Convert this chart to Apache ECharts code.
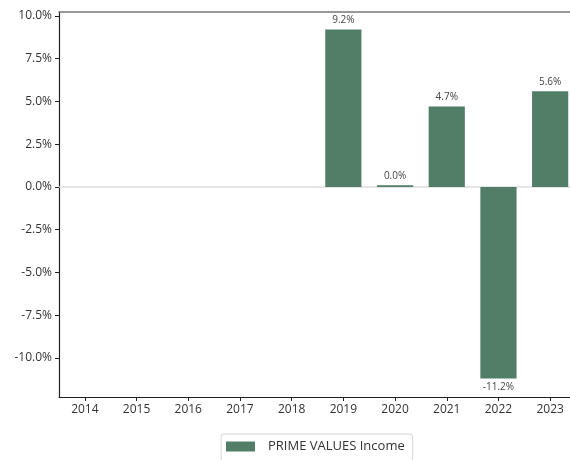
<!DOCTYPE html>
<html><head><meta charset="utf-8">
<script src="https://cdn.jsdelivr.net/npm/echarts@6/dist/echarts.min.js"></script>
<style>html,body{margin:0;padding:0;background:#fff}#c{width:570px;height:460px}</style>
</head><body><div id="c"></div>
<script>
const categories = ['2014','2015','2016','2017','2018','2019','2020','2021','2022','2023'];
const incomeValues = [null,null,null,null,null,9.2,0.1,4.7,-11.2,5.6];
const incomeLabels = ['','','','','','9.2%','0.0%','4.7%','-11.2%','5.6%'];
const yTicks = [-10,-7.5,-5,-2.5,0,2.5,5,7.5,10];
const seriesName = 'PRIME VALUES Income';

const chart = echarts.init(document.getElementById('c'), null, {renderer:'canvas'});
const font = '"Open Sans", "Noto Sans", sans-serif';
chart.setOption({
  animation:false,
  textStyle:{fontFamily:font},
  grid:{left:59, width:517, top:12, bottom:63, containLabel:false, outerBoundsMode:'none'},
  legend:{
    bottom:-1, left:221, itemWidth:29, itemHeight:10, itemGap:10,
    padding:[6,8,8,5], borderColor:'#d6d6d6', borderWidth:1, borderRadius:3,
    textStyle:{fontSize:13, color:'#333', fontFamily:font, padding:[0,0,0,8]},
    data:[{name:seriesName, icon:'rect'}]
  },
  xAxis:[{
    type:'category', data:categories, position:'bottom',
    axisLine:{show:true, onZero:false, lineStyle:{color:'#222', width:1.2}},
    axisTick:{show:true, alignWithLabel:true, length:4, lineStyle:{color:'#222'}},
    axisLabel:{fontSize:12, color:'#333', margin:7, fontFamily:font},
    splitLine:{show:false}
  },{
    type:'category', data:categories, position:'top',
    axisLine:{show:true, onZero:false, lineStyle:{color:'#777', width:1.5}},
    axisTick:{show:false}, axisLabel:{show:false}, splitLine:{show:false}
  }],
  yAxis:{
    type:'value', min:-12.28, max:10.23,
    axisLine:{show:true, lineStyle:{color:'#222', width:1.2}},
    axisTick:{show:true, length:4, customValues:yTicks, lineStyle:{color:'#222'}},
    axisLabel:{fontSize:12, color:'#333', margin:7, customValues:yTicks, fontFamily:font,
      formatter:v=>v.toFixed(1)+'%'},
    splitLine:{show:false}
  },
  series:[{
    name:seriesName, type:'bar', data:incomeValues, barCategoryGap:'30%',
    itemStyle:{color:'#527d67'},
    label:{show:true, position:'outside', distance:4, fontSize:10, color:'#444', fontFamily:font,
      formatter:p=>incomeLabels[p.dataIndex]},
    markLine:{silent:true, symbol:'none', label:{show:false}, z:1,
      lineStyle:{color:'#dcdcdc', type:'solid', width:1.5}, data:[{yAxis:0}]}
  }]
});
</script></body></html>
